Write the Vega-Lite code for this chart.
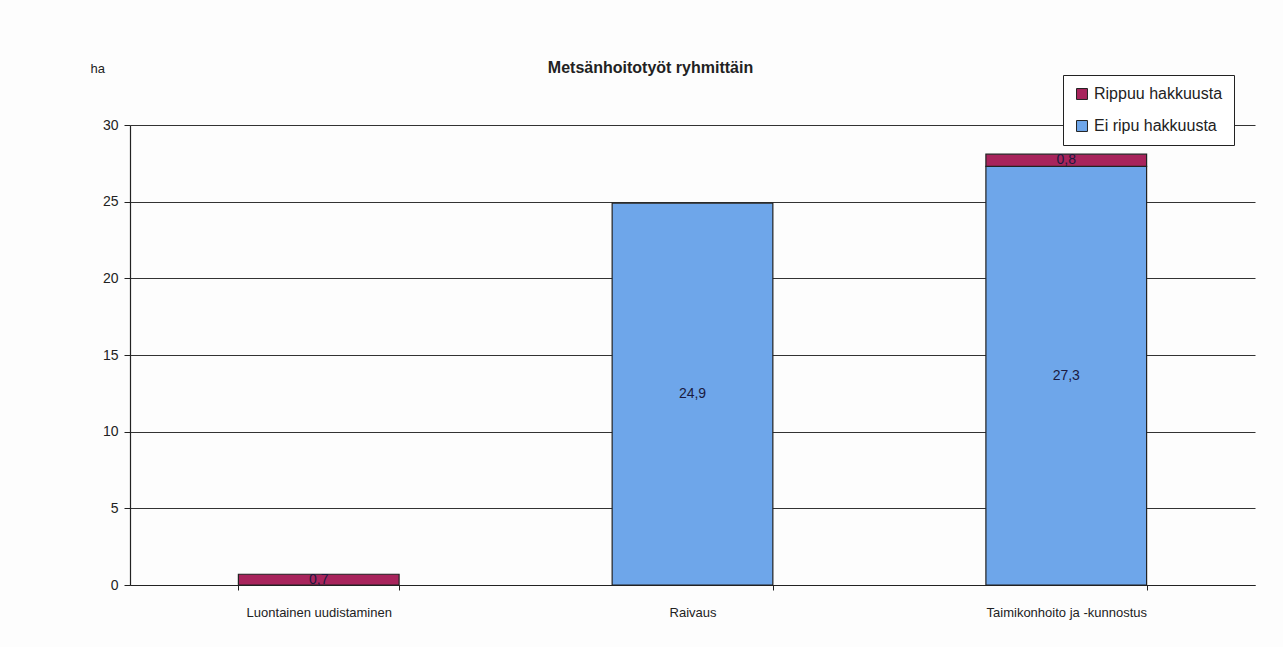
{
  "$schema": "https://vega.github.io/schema/vega-lite/v6.json",
  "autosize": "none",
  "width": 1125,
  "height": 460,
  "padding": {"left": 130, "top": 125, "right": 28, "bottom": 62},
  "background": "#fdfdfd",
  "config": {
    "font": "Liberation Sans",
    "view": {"stroke": null},
    "locale": {"number": {"decimal": ",", "thousands": " ", "grouping": [3], "currency": ["", " €"]}}
  },
  "title": {
    "text": "Metsänhoitotyöt ryhmittäin",
    "fontSize": 16,
    "fontWeight": "bold",
    "color": "#222",
    "anchor": "middle",
    "dx": -42,
    "offset": -14
  },
  "data": {
    "values": [
      {"ryhma": "Luontainen uudistaminen", "sarja": "Rippuu hakkuusta", "jarj": 2, "ha": 0.7},
      {"ryhma": "Raivaus", "sarja": "Ei ripu hakkuusta", "jarj": 1, "ha": 24.9},
      {"ryhma": "Taimikonhoito ja -kunnostus", "sarja": "Ei ripu hakkuusta", "jarj": 1, "ha": 27.3},
      {"ryhma": "Taimikonhoito ja -kunnostus", "sarja": "Rippuu hakkuusta", "jarj": 2, "ha": 0.8}
    ]
  },
  "transform": [
    {"stack": "ha", "groupby": ["ryhma"], "sort": [{"field": "jarj", "order": "ascending"}], "as": ["y0", "y1"]},
    {"calculate": "(datum.y0 + datum.y1) / 2", "as": "ymid"}
  ],
  "encoding": {
    "x": {
      "field": "ryhma",
      "type": "nominal",
      "sort": ["Luontainen uudistaminen", "Raivaus", "Taimikonhoito ja -kunnostus"],
      "scale": {"paddingInner": 0.57, "paddingOuter": 0.29},
      "axis": {
        "title": null,
        "labelAngle": 0,
        "labelFontSize": 13,
        "labelColor": "#222",
        "labelPadding": 16,
        "domainColor": "#222",
        "domainWidth": 1.2,
        "tickColor": "#222",
        "tickBand": "extent",
        "tickSize": 5
      }
    }
  },
  "layer": [
    {
      "mark": {"type": "bar", "stroke": "#222", "strokeWidth": 1.2},
      "encoding": {
        "y": {
          "field": "y1",
          "type": "quantitative",
          "scale": {"domain": [0, 30]},
          "axis": {
            "title": "ha",
            "titleAngle": 0,
            "titleX": -40,
            "titleY": -50,
            "titleAlign": "left",
            "titleFontSize": 13,
            "titleFontWeight": "normal",
            "titleColor": "#222",
            "values": [0, 5, 10, 15, 20, 25, 30],
            "labelFontSize": 14,
            "labelColor": "#222",
            "labelPadding": 6,
            "grid": true,
            "gridColor": "#333",
            "gridWidth": 1.2,
            "domainColor": "#222",
            "domainWidth": 1.2,
            "tickColor": "#222",
            "tickSize": 6
          }
        },
        "y2": {"field": "y0"},
        "color": {
          "field": "sarja",
          "type": "nominal",
          "scale": {"domain": ["Rippuu hakkuusta", "Ei ripu hakkuusta"], "range": ["#a8245c", "#6ea6ea"]},
          "legend": {
            "title": null,
            "orient": "none",
            "legendX": 933,
            "legendY": -50,
            "strokeColor": "#222",
            "fillColor": "#ffffff",
            "padding": 11,
            "symbolType": "square",
            "symbolSize": 120,
            "symbolStrokeColor": "#222",
            "symbolStrokeWidth": 1,
            "labelFontSize": 16,
            "labelColor": "#222",
            "rowPadding": 16
          }
        }
      }
    },
    {
      "mark": {"type": "text", "fontSize": 14, "color": "#1a1a40", "baseline": "middle", "align": "center"},
      "encoding": {
        "y": {"field": "ymid", "type": "quantitative"},
        "text": {"field": "ha", "type": "quantitative", "format": ".1f"}
      }
    }
  ]
}
